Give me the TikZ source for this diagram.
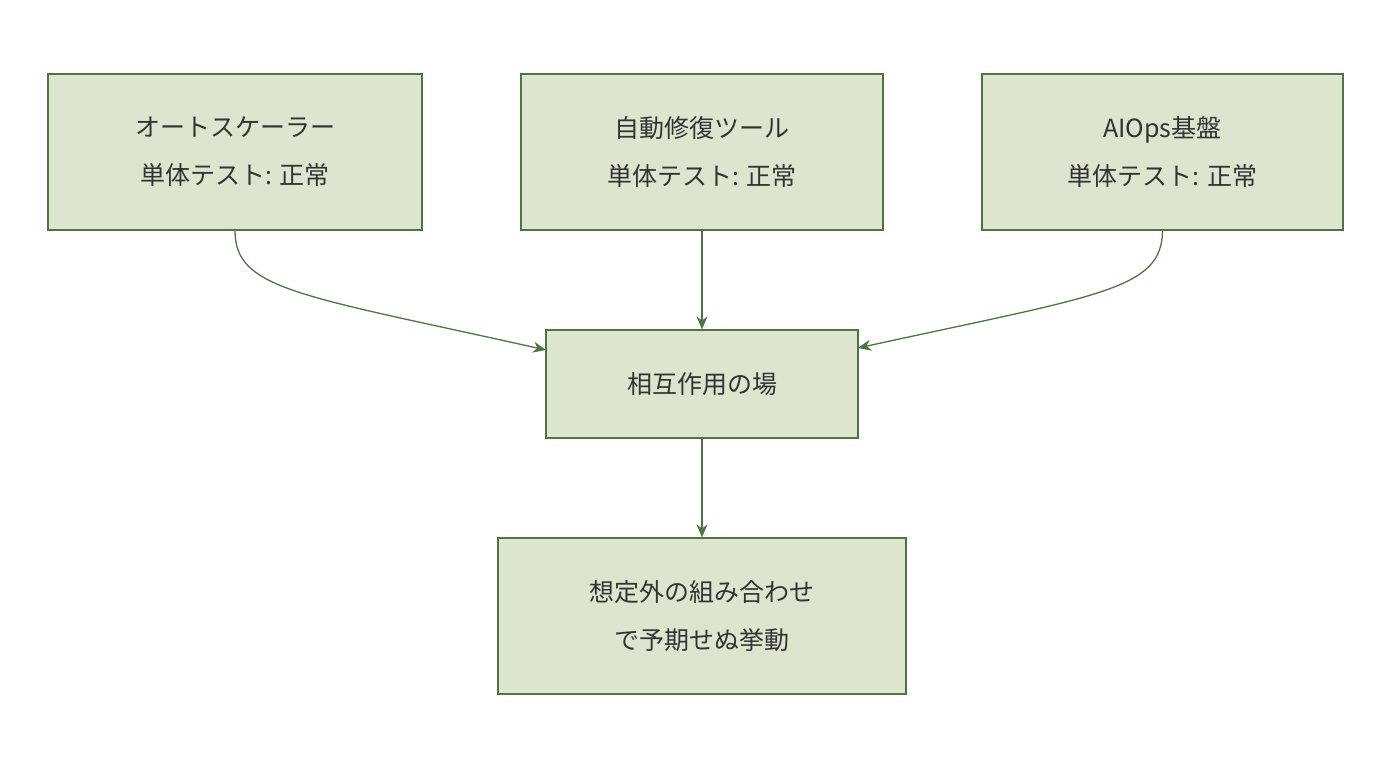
\documentclass[tikz,border=0pt]{standalone}
\usepackage{fontspec}
\setmainfont{Noto Sans CJK JP}
\usetikzlibrary{arrows.meta}
\definecolor{bfill}{HTML}{DDE5CF}
\definecolor{bdraw}{HTML}{4E7443}
\definecolor{txt}{HTML}{333333}
\begin{document}
\begin{tikzpicture}[x=1pt,y=-1pt,
  box/.style={draw=bdraw,fill=bfill,line width=1.3pt,text=txt,align=center,inner sep=0,
    font=\fontsize{25}{48}\selectfont},
  arr/.style={draw=bdraw,line width=1.3pt,-{Stealth[length=13pt,width=11pt]}}]
\useasboundingbox (0,0) rectangle (1392,772);
\node[box,minimum width=374pt,minimum height=156pt] (a) at (235,152) {オートスケーラー\\単体テスト: 正常};
\node[box,minimum width=362pt,minimum height=156pt] (b) at (702,152) {自動修復ツール\\単体テスト: 正常};
\node[box,minimum width=361pt,minimum height=156pt] (c) at (1162.5,152) {AIOps基盤\\単体テスト: 正常};
\node[box,minimum width=312pt,minimum height=108pt] (d) at (702,384) {相互作用の場};
\node[box,minimum width=408pt,minimum height=156pt] (e) at (702,616) {想定外の組み合わせ\\で予期せぬ挙動};
\coordinate (dl) at (546,350);
\coordinate (dr) at (858,348);
\draw[arr] (a.south) .. controls (235,290) and (300,295) .. (dl);
\draw[arr] (c.south) .. controls (1162,290) and (1100,295) .. (dr);
\draw[arr] (b.south) -- (d.north);
\draw[arr] (d.south) -- (e.north);
\end{tikzpicture}
\end{document}
